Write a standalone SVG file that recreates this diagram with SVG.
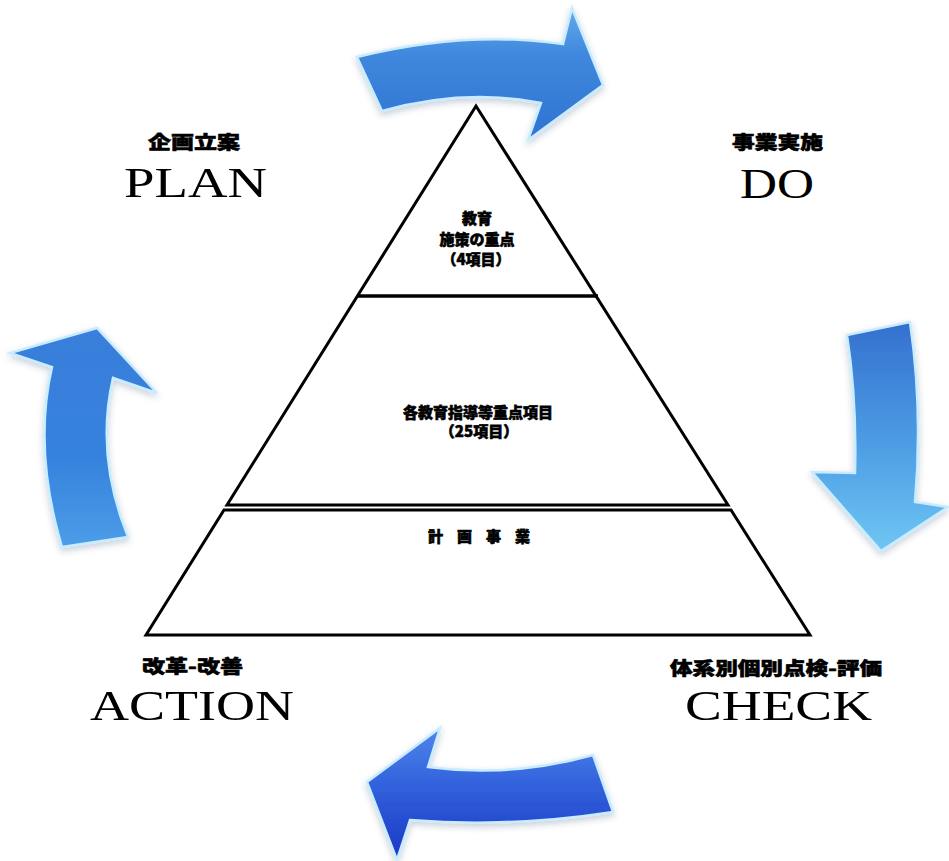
<svg xmlns="http://www.w3.org/2000/svg" width="949" height="861" viewBox="0 0 949 861">
  <defs>
    <style>
      .tier { fill: #ffffff; stroke: #000000; stroke-width: 3; stroke-linejoin: miter; }
      .divider { stroke: #000000; stroke-width: 3.5; }
      .jp { font-family: "Noto Sans CJK JP", "Noto Sans", sans-serif; font-weight: 900; fill: #000000; stroke: #000000; stroke-width: 0.6; }
      .inner { font-size: 15px; text-anchor: middle; }
      .head { font-size: 18px; }
      .en { font-family: "Liberation Serif", "Times New Roman", serif; font-size: 43px; fill: #000000; }
      .bevel { fill: none; stroke: #c8ecff; stroke-width: 2.5; stroke-linejoin: miter; }
    </style>
    <linearGradient id="gTop" x1="0" y1="0" x2="0" y2="1">
      <stop offset="0" stop-color="#66aaec"/>
      <stop offset="0.35" stop-color="#3f88dd"/>
      <stop offset="1" stop-color="#2f72d2"/>
    </linearGradient>
    <linearGradient id="gRight" x1="0" y1="0" x2="0" y2="1">
      <stop offset="0" stop-color="#3470cf"/>
      <stop offset="0.55" stop-color="#4e9ee4"/>
      <stop offset="1" stop-color="#6fc6f3"/>
    </linearGradient>
    <linearGradient id="gBottom" x1="0" y1="0" x2="0" y2="1">
      <stop offset="0" stop-color="#4f86ea"/>
      <stop offset="0.45" stop-color="#3160dc"/>
      <stop offset="1" stop-color="#1c38c2"/>
    </linearGradient>
    <linearGradient id="gLeft" x1="0" y1="0" x2="0" y2="1">
      <stop offset="0" stop-color="#3a7edb"/>
      <stop offset="0.6" stop-color="#3582dd"/>
      <stop offset="1" stop-color="#4d9de8"/>
    </linearGradient>
    <filter id="soft" x="-10%" y="-10%" width="120%" height="130%">
      <feDropShadow dx="0" dy="3" stdDeviation="3" flood-color="#1a3a6a" flood-opacity="0.25"/>
    </filter>
  </defs>

  <rect x="0" y="0" width="949" height="861" fill="#ffffff"/>

  <!-- cycle arrows -->
  <g id="connectors">
    <g id="arrow-plan-do" filter="url(#soft)">
      <path d="M357,57 Q465,30 563,44 L572,8 L603,85 L528,140 L541,103 Q465,88 382,111 Z" fill="url(#gTop)"/>
      <path class="bevel" d="M357,57 Q465,30 563,44 L572,8 L603,85 L528,140 L541,103 Q465,88 382,111 Z"/>
    </g>
    <g id="arrow-do-check" filter="url(#soft)">
      <path d="M847,335 L910,322 Q923,410 915,502 L948,507 L881,551 L812,472 L855,473 Q857,400 847,335 Z" fill="url(#gRight)"/>
      <path class="bevel" d="M847,335 L910,322 Q923,410 915,502 L948,507 L881,551 L812,472 L855,473 Q857,400 847,335 Z"/>
    </g>
    <g id="arrow-check-action" filter="url(#soft)">
      <path d="M593,755 L613,812 Q510,828 410,820 L397,860 L367,782 L440,728 L428,767 Q510,778 593,755 Z" fill="url(#gBottom)"/>
      <path class="bevel" d="M593,755 L613,812 Q510,828 410,820 L397,860 L367,782 L440,728 L428,767 Q510,778 593,755 Z"/>
    </g>
    <g id="arrow-action-plan" filter="url(#soft)">
      <path d="M62,547 Q33,450 52,367 L10,353 L97,328 L157,393 L113,378 Q95,455 128,537 Z" fill="url(#gLeft)"/>
      <path class="bevel" d="M62,547 Q33,450 52,367 L10,353 L97,328 L157,393 L113,378 Q95,455 128,537 Z"/>
    </g>
  </g>

  <!-- pyramid: upper triangle and middle band share one outline -->
  <g id="tier-upper-middle">
    <polygon class="tier" points="476,106 728,505 227,505"/>
    <line class="divider" x1="357" y1="296" x2="598" y2="296"/>
  </g>
  <g id="tier-top">
    <text class="jp inner" x="477" y="224">教育</text>
    <text class="jp inner" x="477" y="245">施策の重点</text>
    <text class="jp inner" x="476" y="265">（4項目）</text>
  </g>
  <g id="tier-middle">
    <text class="jp inner" x="478" y="418">各教育指導等重点項目</text>
    <text class="jp inner" x="479" y="437">（25項目）</text>
  </g>
  <g id="tier-bottom">
    <polygon class="tier" points="224,510 731,510 810,635 146,635"/>
    <text class="jp" x="428" y="542" font-size="15" textLength="102" lengthAdjust="spacing">計 画 事 業</text>
  </g>

  <!-- stage labels -->
  <g id="stage-plan">
    <text class="jp head" x="148" y="149" textLength="92" lengthAdjust="spacingAndGlyphs">企画立案</text>
    <text class="en" x="124" y="197" textLength="143" lengthAdjust="spacingAndGlyphs">PLAN</text>
  </g>
  <g id="stage-do">
    <text class="jp head" x="732" y="149" textLength="91" lengthAdjust="spacingAndGlyphs">事業実施</text>
    <text class="en" x="740" y="198" textLength="74" lengthAdjust="spacingAndGlyphs">DO</text>
  </g>
  <g id="stage-check">
    <text class="jp head" x="670" y="675" textLength="212" lengthAdjust="spacingAndGlyphs">体系別個別点検-評価</text>
    <text class="en" x="685" y="720" textLength="187" lengthAdjust="spacingAndGlyphs">CHECK</text>
  </g>
  <g id="stage-action">
    <text class="jp head" x="142" y="673" textLength="101" lengthAdjust="spacingAndGlyphs">改革-改善</text>
    <text class="en" x="90" y="720" textLength="204" lengthAdjust="spacingAndGlyphs">ACTION</text>
  </g>
</svg>
